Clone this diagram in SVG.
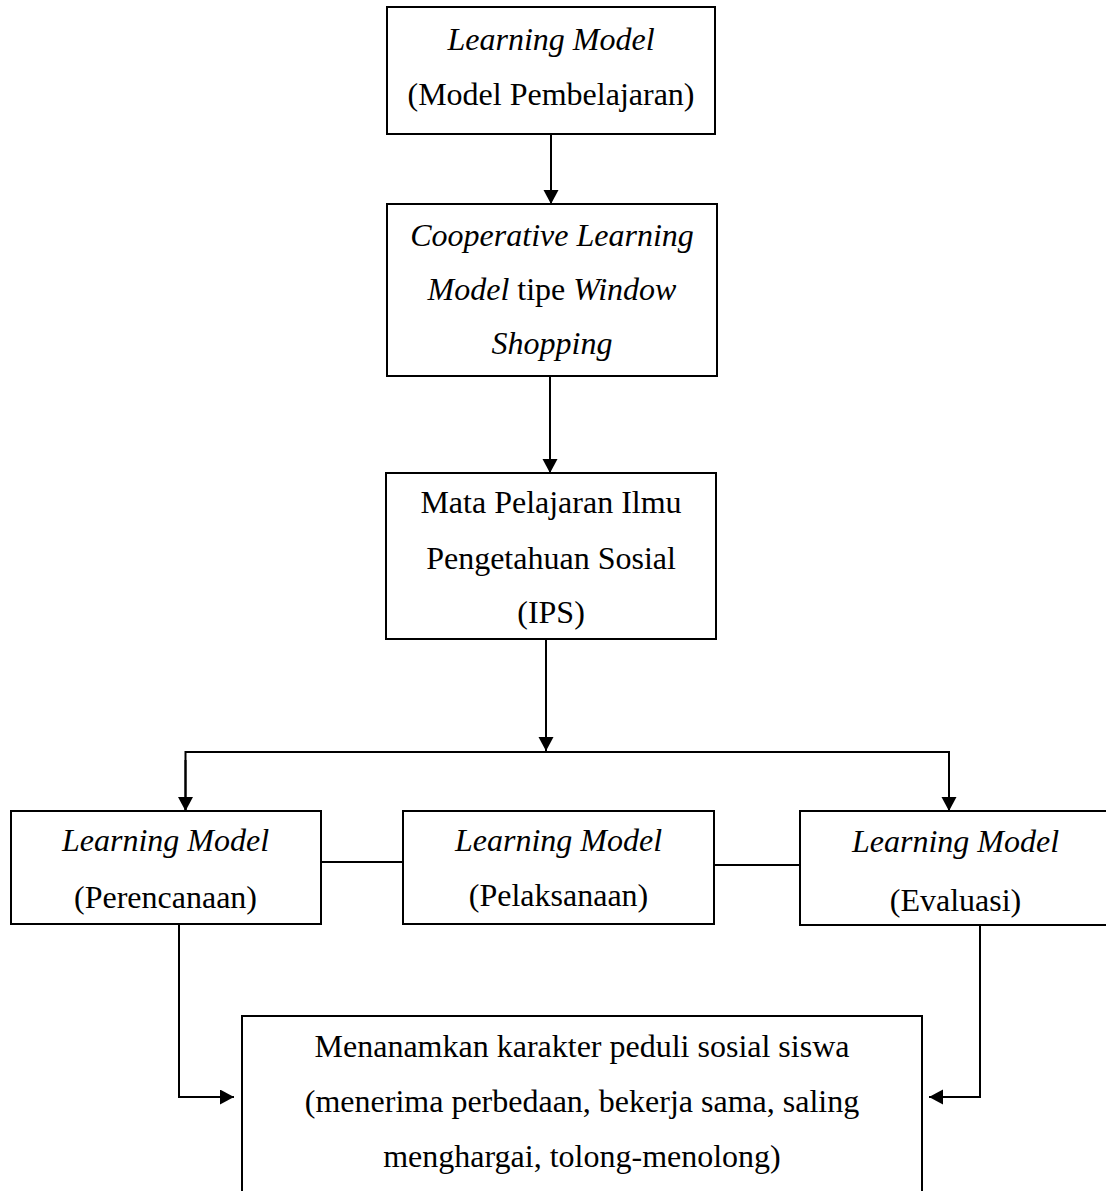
<svg xmlns="http://www.w3.org/2000/svg" width="1106" height="1191" viewBox="0 0 1106 1191">
<style>
.box{fill:#fff;stroke:#000;stroke-width:2}
.t{font-family:"Liberation Serif","Times New Roman",serif;font-size:32px;fill:#000;text-anchor:middle}
.i{font-style:italic}
.c{fill:none;stroke:#000;stroke-width:2}
</style>
<defs>
<marker id="ah" markerUnits="userSpaceOnUse" markerWidth="16" markerHeight="16" refX="14" refY="7.5" orient="auto">
<path d="M0,0 L14,7.5 L0,15 z" fill="#000"/>
</marker>
</defs>
<rect width="1106" height="1191" fill="#fff"/>
<g id="connectors">
<line class="c" x1="551" y1="134" x2="551" y2="204" marker-end="url(#ah)"/>
<line class="c" x1="550" y1="376" x2="550" y2="473" marker-end="url(#ah)"/>
<line class="c" x1="546" y1="639" x2="546" y2="751" marker-end="url(#ah)"/>
<polyline class="c" points="185.5,811 185.5,752 949,752 949,811"/>
<line class="c" x1="185.5" y1="760" x2="185.5" y2="811" marker-end="url(#ah)"/>
<line class="c" x1="949" y1="760" x2="949" y2="811" marker-end="url(#ah)"/>
<line class="c" x1="321" y1="862" x2="403" y2="862"/>
<line class="c" x1="714" y1="865" x2="800" y2="865"/>
<polyline class="c" points="179,924 179,1097 234,1097" marker-end="url(#ah)"/>
<polyline class="c" points="980,925 980,1097 929,1097" marker-end="url(#ah)"/>
</g>
<g id="n1">
<rect class="box" x="387" y="7" width="328" height="127"/>
<text class="t i" x="551" y="50">Learning Model</text>
<text class="t" x="551" y="105">(Model Pembelajaran)</text>
</g>
<g id="n2">
<rect class="box" x="387" y="204" width="330" height="172"/>
<text class="t i" x="552" y="246">Cooperative Learning</text>
<text class="t" x="552" y="300"><tspan class="i">Model</tspan> tipe <tspan class="i">Window</tspan></text>
<text class="t i" x="552" y="354">Shopping</text>
</g>
<g id="n3">
<rect class="box" x="386" y="473" width="330" height="166"/>
<text class="t" x="551" y="513">Mata Pelajaran Ilmu</text>
<text class="t" x="551" y="569">Pengetahuan Sosial</text>
<text class="t" x="551" y="623">(IPS)</text>
</g>
<g id="n4">
<rect class="box" x="11" y="811" width="310" height="113"/>
<text class="t i" x="165.5" y="851">Learning Model</text>
<text class="t" x="165.5" y="908">(Perencanaan)</text>
</g>
<g id="n5">
<rect class="box" x="403" y="811" width="311" height="113"/>
<text class="t i" x="558.5" y="851">Learning Model</text>
<text class="t" x="558.5" y="906">(Pelaksanaan)</text>
</g>
<g id="n6">
<rect class="box" x="800" y="811" width="312" height="114"/>
<text class="t i" x="955.5" y="852">Learning Model</text>
<text class="t" x="955.5" y="911">(Evaluasi)</text>
</g>
<g id="n7">
<rect class="box" x="242" y="1016" width="680" height="190"/>
<text class="t" x="582" y="1057">Menanamkan karakter peduli sosial siswa</text>
<text class="t" x="582" y="1112">(menerima perbedaan, bekerja sama, saling</text>
<text class="t" x="582" y="1167">menghargai, tolong-menolong)</text>
</g>
</svg>
